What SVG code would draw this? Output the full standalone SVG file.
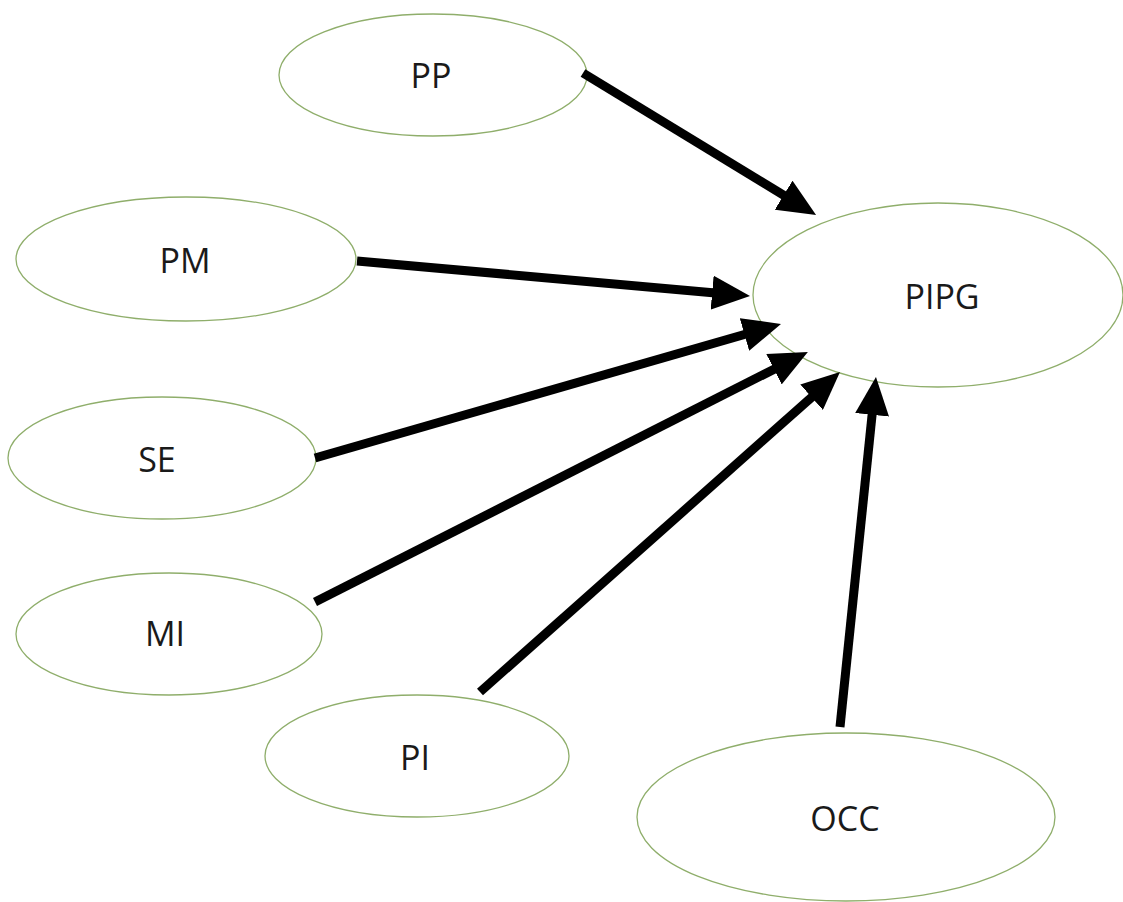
<svg xmlns="http://www.w3.org/2000/svg" width="1123" height="902" viewBox="0 0 1123 902">
<style>
.node ellipse{fill:#ffffff;stroke:#8fae6b;stroke-width:1.3}
.node text{font-family:"Open Sans","Liberation Sans",sans-serif;font-size:34px;fill:#1a1a1a;text-anchor:middle}
.edge{stroke:#000;stroke-width:9;fill:none;marker-end:url(#ah)}
</style>
<defs>
<marker id="ah" markerUnits="userSpaceOnUse" markerWidth="38" markerHeight="34" viewBox="0 0 38 34" refX="9" refY="17" orient="auto">
<path d="M0,0 L38,17 L0,34 z" fill="#000"/>
</marker>
</defs>
<rect width="1123" height="902" fill="#fff"/>
<g id="n-PP" class="node"><ellipse cx="433" cy="75" rx="154" ry="61"/><text x="431" y="88">PP</text></g>
<g id="n-PM" class="node"><ellipse cx="186" cy="259" rx="170" ry="62"/><text x="185" y="273">PM</text></g>
<g id="n-PIPG" class="node"><ellipse cx="938" cy="295" rx="185" ry="92"/><text x="942" y="309">PIPG</text></g>
<g id="n-SE" class="node"><ellipse cx="162" cy="458" rx="154" ry="61"/><text x="157" y="472">SE</text></g>
<g id="n-MI" class="node"><ellipse cx="169" cy="634" rx="153" ry="61"/><text x="165" y="646">MI</text></g>
<g id="n-PI" class="node"><ellipse cx="417" cy="756" rx="152" ry="61"/><text x="415" y="770">PI</text></g>
<g id="n-OCC" class="node"><ellipse cx="846" cy="817" rx="209" ry="84"/><text x="845" y="831">OCC</text></g>
<g id="edges">
<line class="edge" x1="583" y1="73" x2="791.3" y2="199.9"/>
<line class="edge" x1="357" y1="261" x2="721.1" y2="293.4"/>
<line class="edge" x1="315" y1="458" x2="753.1" y2="332.0"/>
<line class="edge" x1="315" y1="602" x2="782.0" y2="365.2"/>
<line class="edge" x1="480" y1="692" x2="818.3" y2="391.3"/>
<line class="edge" x1="840" y1="727" x2="873.0" y2="405.9"/>
</g>
</svg>
